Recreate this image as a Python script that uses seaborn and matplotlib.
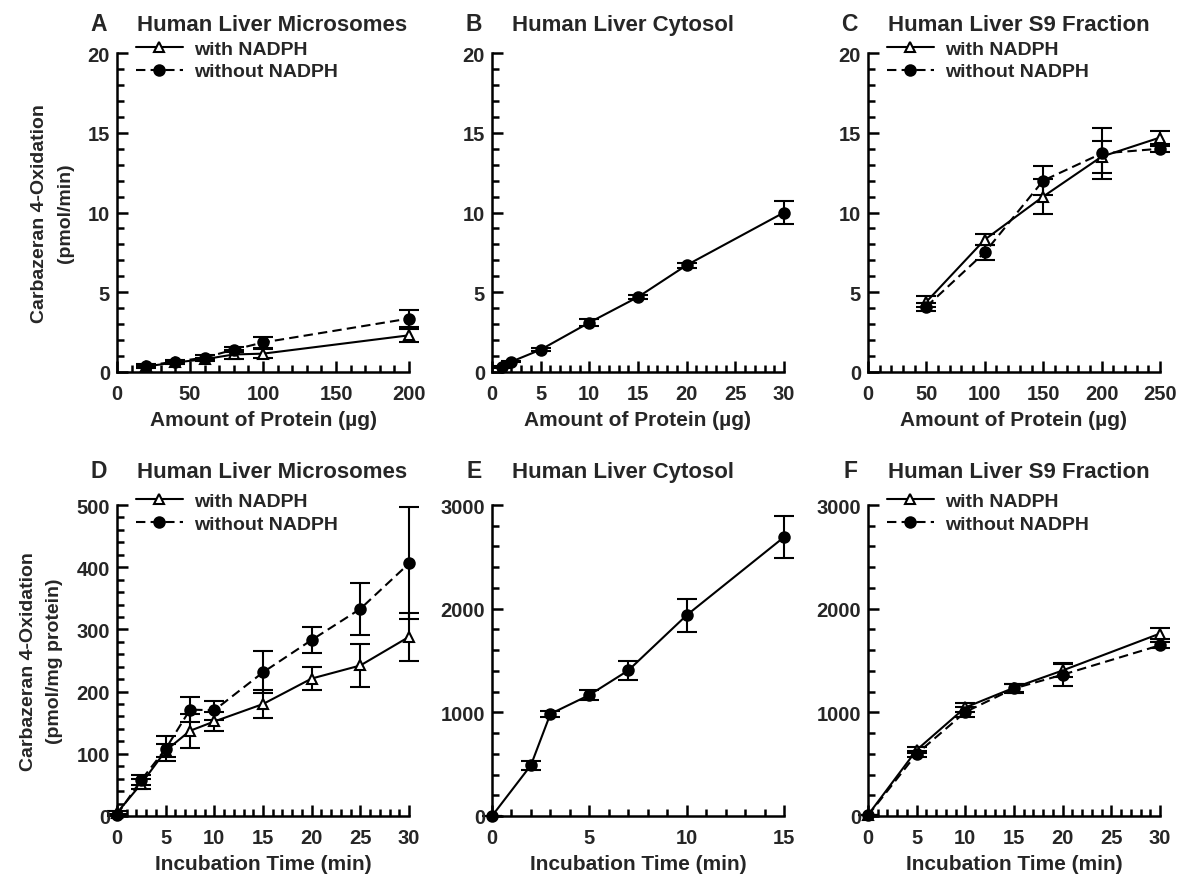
import matplotlib
matplotlib.use("Agg")
import matplotlib.pyplot as plt
import seaborn as sns
from matplotlib.ticker import MultipleLocator

# ---------------- data ----------------
a_x = [20, 40, 60, 80, 100, 200]
a_with = [0.35, 0.6, 0.8, 1.1, 1.15, 2.3]
a_with_err = [0.1, 0.1, 0.1, 0.3, 0.3, 0.4]
a_without = [0.4, 0.65, 0.9, 1.4, 1.85, 3.35]
a_without_err = [0.1, 0.1, 0.15, 0.15, 0.35, 0.55]

b_x = [1, 2, 5, 10, 15, 20, 30]
b_y = [0.3, 0.65, 1.4, 3.1, 4.7, 6.7, 10.0]
b_err = [0.05, 0.05, 0.08, 0.2, 0.1, 0.15, 0.75]

c_x = [50, 100, 150, 200, 250]
c_with = [4.4, 8.3, 11.0, 13.5, 14.7]
c_with_err = [0.35, 0.35, 1.1, 1.0, 0.4]
c_without = [4.1, 7.5, 12.0, 13.7, 14.0]
c_without_err = [0.25, 0.45, 0.9, 1.6, 0.2]

d_x = [0, 2.5, 5, 7.5, 10, 15, 20, 25, 30]
d_with = [5, 52, 105, 137, 152, 180, 221, 242, 288]
d_with_err = [3, 8, 10, 27, 15, 22, 18, 34, 38]
d_without = [2, 58, 108, 171, 170, 231, 283, 333, 406]
d_without_err = [2, 8, 20, 20, 15, 34, 21, 42, 90]

e_x = [0, 2, 3, 5, 7, 10, 15]
e_y = [0, 490, 985, 1167, 1404, 1937, 2690]
e_err = [0, 45, 30, 50, 95, 158, 205]

f_x = [0, 5, 10, 15, 20, 30]
f_with = [10, 637, 1047, 1237, 1404, 1760]
f_with_err = [0, 30, 40, 40, 60, 50]
f_without = [5, 600, 1003, 1230, 1363, 1647]
f_without_err = [0, 30, 45, 40, 110, 30]

titles = ["Human Liver Microsomes", "Human Liver Cytosol", "Human Liver S9 Fraction"]
letters = ["A", "B", "C", "D", "E", "F"]
xlabel_top = "Amount of Protein (\u00b5g)"
xlabel_bottom = "Incubation Time (min)"
ylabel_top = "Carbazeran 4-Oxidation\n(pmol/min)"
ylabel_bottom = "Carbazeran 4-Oxidation\n(pmol/mg protein)"
lab_with = "with NADPH"
lab_without = "without NADPH"

# ---------------- style ----------------
sns.set_style("ticks")
plt.rcParams["font.family"] = ["Liberation Sans", "DejaVu Sans"]
plt.rcParams["font.weight"] = "bold"
plt.rcParams["axes.labelweight"] = "bold"
plt.rcParams["axes.axisbelow"] = False

W, H = 1180, 887
fig = plt.figure(figsize=(W / 100, H / 100), dpi=100)
cols = [117, 492, 868]
aw = 292
rows = [(54, 373), (506, 817)]
axes = []
for top, bot in rows:
    for l in cols:
        axes.append(fig.add_axes([l / W, 1 - bot / H, aw / W, (bot - top) / H]))

DASH = (0, (4.5, 2.5))


def style(ax, xlim, xmaj, xmin, ylim, ymaj, ymin):
    ax.set_xlim(*xlim)
    ax.set_ylim(*ylim)
    ax.xaxis.set_major_locator(MultipleLocator(xmaj))
    ax.yaxis.set_major_locator(MultipleLocator(ymaj))
    ax.xaxis.set_minor_locator(MultipleLocator(xmin))
    ax.yaxis.set_minor_locator(MultipleLocator(ymin))
    for axis in (ax.xaxis, ax.yaxis):
        axis.set_tick_params(which="major", direction="in", length=8,
                             width=1.8, color="black", labelsize=14.5)
        axis.set_tick_params(which="minor", direction="in", length=5,
                             width=1.8, color="black")
    ax.tick_params(which="both", top=False, right=False, bottom=True, left=True)
    ax.tick_params(axis="x", which="major", pad=9)
    ax.tick_params(axis="y", which="major", pad=5)
    for s in ["top", "right"]:
        ax.spines[s].set_visible(False)
    for s in ["left", "bottom"]:
        ax.spines[s].set_linewidth(1.8)
        ax.spines[s].set_color("black")
    ax.set_facecolor("white")


def series(ax, x, y, err, filled, ls, label=None):
    ax.errorbar(x, y, yerr=err, fmt="none", ecolor="black", elinewidth=1.5,
                capsize=7.5, capthick=1.5, clip_on=False, zorder=2)
    sns.lineplot(x=x, y=y, ax=ax, color="black", linestyle=ls, linewidth=1.5,
                 marker="o" if filled else "^",
                 markersize=7.5,
                 markerfacecolor="black" if filled else "white",
                 markeredgecolor="black", markeredgewidth=1.5,
                 label=label, legend=False, errorbar=None, clip_on=False,
                 zorder=3)


def legend(ax):
    ax.legend(loc="upper left", bbox_to_anchor=(0.065, 1.04), frameon=False,
              borderpad=0, borderaxespad=0, handlelength=2.4,
              handletextpad=0.6, labelspacing=0.25, fontsize=14, numpoints=1)


def heading(ax, letter, title, dy):
    ax.annotate(title, xy=(0, 1), xycoords="axes fraction", xytext=(20, dy),
                textcoords="offset pixels", ha="left", va="baseline",
                fontsize=16, fontweight="bold")
    ax.annotate(letter, xy=(0, 1), xycoords="axes fraction", xytext=(-10, dy),
                textcoords="offset pixels", ha="right", va="baseline",
                fontsize=16.5, fontweight="bold")


YL = dict(fontsize=14, labelpad=10, linespacing=1.65)
XL = dict(fontsize=15, labelpad=5)

# A
ax = axes[0]
series(ax, a_x, a_with, a_with_err, False, "-", lab_with)
series(ax, a_x, a_without, a_without_err, True, DASH, lab_without)
style(ax, (0, 200), 50, 10, (0, 20), 5, 1)
legend(ax)
ax.set_ylabel(ylabel_top, **YL)
ax.set_xlabel(xlabel_top, **XL)

# B
ax = axes[1]
series(ax, b_x, b_y, b_err, True, "-")
style(ax, (0, 30), 5, 1, (0, 20), 5, 1)
ax.set_xlabel(xlabel_top, **XL)

# C
ax = axes[2]
series(ax, c_x, c_with, c_with_err, False, "-", lab_with)
series(ax, c_x, c_without, c_without_err, True, DASH, lab_without)
style(ax, (0, 250), 50, 10, (0, 20), 5, 1)
legend(ax)
ax.set_xlabel(xlabel_top, **XL)

# D
ax = axes[3]
series(ax, d_x, d_with, d_with_err, False, "-", lab_with)
series(ax, d_x, d_without, d_without_err, True, DASH, lab_without)
style(ax, (0, 30), 5, 1, (0, 500), 100, 20)
legend(ax)
ax.set_ylabel(ylabel_bottom, **YL)
ax.set_xlabel(xlabel_bottom, **XL)

# E
ax = axes[4]
series(ax, e_x, e_y, e_err, True, "-")
style(ax, (0, 15), 5, 1, (0, 3000), 1000, 200)
ax.set_xlabel(xlabel_bottom, **XL)

# F
ax = axes[5]
series(ax, f_x, f_with, f_with_err, False, "-", lab_with)
series(ax, f_x, f_without, f_without_err, True, DASH, lab_without)
style(ax, (0, 30), 5, 1, (0, 3000), 1000, 200)
legend(ax)
ax.set_xlabel(xlabel_bottom, **XL)

for i, ax in enumerate(axes):
    heading(ax, letters[i], titles[i % 3], 23 if i < 3 else 28)

fig.savefig("out.png", dpi=100, facecolor="white")
